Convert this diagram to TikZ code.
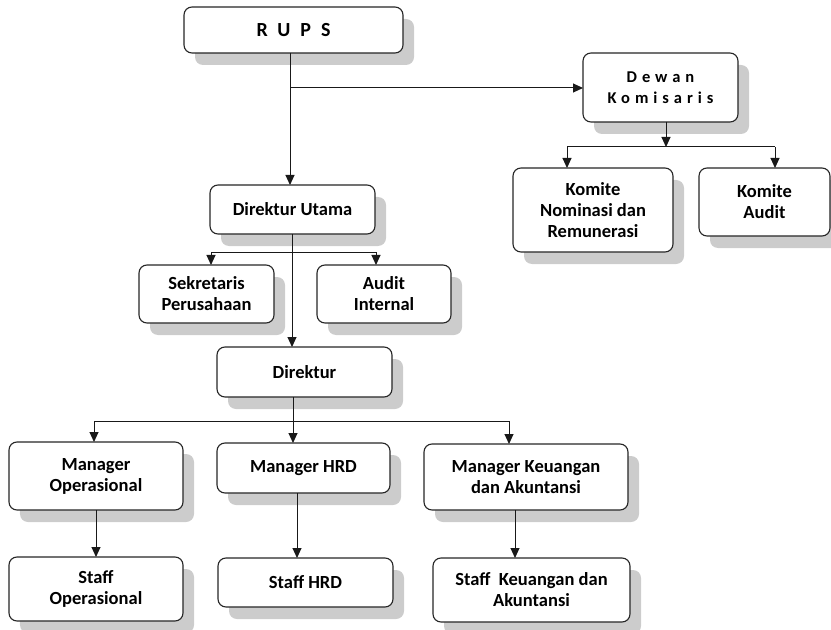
\documentclass[tikz,border=0pt]{standalone}
\usepackage{fontspec}
\setmainfont{Carlito}
\newfontfamily\rupsfont[LetterSpace=50]{Carlito}
\newfontfamily\dewanfont[LetterSpace=30]{Carlito}
\usetikzlibrary{shadows,arrows.meta}
\begin{document}
\begin{tikzpicture}[x=1bp,y=-1bp,
  box/.style={draw=black!85, rounded corners=8bp, fill=white, line width=1.1bp,
    align=center, inner sep=0pt, outer sep=0pt,
    font=\fontsize{18.5bp}{21bp}\selectfont\bfseries,
    drop shadow={shadow xshift=11bp, shadow yshift=-12bp, fill=black!20, opacity=1}},
  ln/.style={draw=black!90, line width=1bp},
  arr/.style={ln, -{Triangle[length=10bp,width=9bp]}}]
\useasboundingbox (0,0) rectangle (831,630);
% boxes
\node[box, minimum width=219bp, minimum height=46bp,
  font=\fontsize{20bp}{22bp}\rupsfont\bfseries] (rups) at (293.5,30) {RUPS};
\node[box, minimum width=155bp, minimum height=69bp,
  font=\fontsize{16.5bp}{21.5bp}\dewanfont\bfseries] (dk) at (660.5,87.5)
  {Dewan\\Komisaris};
\node[box, minimum width=160bp, minimum height=84bp] (kn) at (593,210)
  {Komite\\Nominasi dan\\Remunerasi};
\node[box, minimum width=131bp, minimum height=68bp] (ka) at (764.5,202)
  {Komite\\Audit};
\node[box, minimum width=165bp, minimum height=49bp] (du) at (292.5,209.5)
  {Direktur Utama};
\node[box, minimum width=135bp, minimum height=58bp] (sp) at (206.5,294)
  {Sekretaris\\Perusahaan};
\node[box, minimum width=134bp, minimum height=58bp] (ai) at (384,294)
  {Audit\\Internal};
\node[box, minimum width=175bp, minimum height=50bp] (dir) at (304.5,372)
  {Direktur};
\node[box, minimum width=174bp, minimum height=68bp] (mo) at (96,476)
  {Manager\\Operasional};
\node[box, minimum width=173bp, minimum height=50bp] (mh) at (303.5,468)
  {Manager HRD};
\node[box, minimum width=204bp, minimum height=66bp] (mk) at (526,477)
  {Manager Keuangan\\dan Akuntansi};
\node[box, minimum width=174bp, minimum height=64bp] (so) at (96,589)
  {Staff\\Operasional};
\node[box, minimum width=175bp, minimum height=49bp] (sh) at (305.5,582.5)
  {Staff HRD};
\node[box, minimum width=197bp, minimum height=64bp] (sk) at (531.5,590)
  {Staff\ \ Keuangan dan\\Akuntansi};
% junction coordinates
\coordinate (j1) at (290,88);
\coordinate (j2) at (666,147);
\coordinate (j2l) at (567,147);
\coordinate (j2r) at (775,147);
\coordinate (j3) at (292,252);
\coordinate (j3l) at (211,252);
\coordinate (j3r) at (376,252);
\coordinate (j4) at (293,421);
\coordinate (j4l) at (94,421);
\coordinate (j4r) at (509,421);
\coordinate (x5) at (96,0);
\coordinate (x6) at (297,0);
\coordinate (x7) at (515,0);
% connectors
\draw[arr] (rups.south -| j1) -- (du.north -| j1);
\draw[arr] (j1) -- (dk.west |- j1);
\draw[arr] (dk.south -| j2) -- (j2);
\draw[ln] (j2l) -- (j2r);
\draw[arr] (j2l) -- (kn.north -| j2l);
\draw[arr] (j2r) -- (ka.north -| j2r);
\draw[arr] (du.south -| j3) -- (dir.north -| j3);
\draw[ln] (j3l) -- (j3r);
\draw[arr] (j3l) -- (sp.north -| j3l);
\draw[arr] (j3r) -- (ai.north -| j3r);
\draw[arr] (dir.south -| j4) -- (mh.north -| j4);
\draw[ln] (j4l) -- (j4r);
\draw[arr] (j4l) -- (mo.north -| j4l);
\draw[arr] (j4r) -- (mk.north -| j4r);
\draw[arr] (mo.south -| x5) -- (so.north -| x5);
\draw[arr] (mh.south -| x6) -- (sh.north -| x6);
\draw[arr] (mk.south -| x7) -- (sk.north -| x7);
\end{tikzpicture}
\end{document}
